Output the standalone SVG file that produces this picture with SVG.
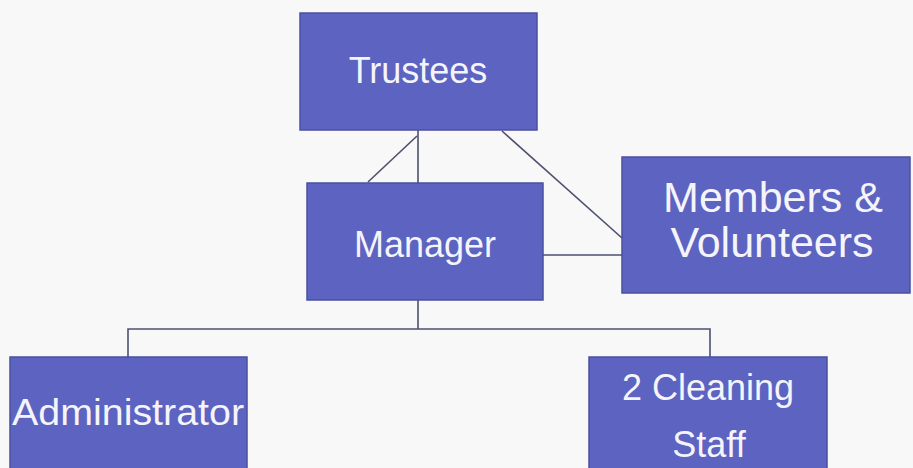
<svg xmlns="http://www.w3.org/2000/svg" width="913" height="468" viewBox="0 0 913 468">
  <style>
    .box { fill: #5c63c0; stroke: #4a509e; stroke-width: 1.5; }
    .lbl { fill: #f4f4fa; font-family: "Liberation Sans", Arial, sans-serif; font-size: 36px; text-anchor: middle; }
    .big { font-size: 43px; }
    .con { stroke: #4d5070; stroke-width: 1.6; fill: none; }
  </style>
  <rect width="913" height="468" fill="#f8f8f8"/>
  <g id="connectors">
    <line class="con" x1="418" y1="130" x2="418" y2="183"/>
    <line class="con" x1="417" y1="136" x2="368" y2="182"/>
    <line class="con" x1="502" y1="131" x2="622" y2="238"/>
    <line class="con" x1="543" y1="255" x2="622" y2="255"/>
    <line class="con" x1="418" y1="300" x2="418" y2="329"/>
    <polyline class="con" points="128,357 128,329 710,329 710,357"/>
  </g>
  <g id="trustees">
    <rect class="box" x="300" y="13" width="237" height="117"/>
    <text class="lbl" x="418" y="83">Trustees</text>
  </g>
  <g id="manager">
    <rect class="box" x="307" y="183" width="236" height="117"/>
    <text class="lbl" x="425" y="257">Manager</text>
  </g>
  <g id="members">
    <rect class="box" x="622" y="157" width="288" height="136"/>
    <text class="lbl big" x="773" y="212">Members &amp;</text>
    <text class="lbl big" x="772" y="257">Volunteers</text>
  </g>
  <g id="administrator">
    <rect class="box" x="10" y="357" width="237" height="120"/>
    <text class="lbl" x="128" y="425" textLength="232" lengthAdjust="spacingAndGlyphs">Administrator</text>
  </g>
  <g id="cleaning">
    <rect class="box" x="589" y="357" width="238" height="120"/>
    <text class="lbl" x="708" y="400">2 Cleaning</text>
    <text class="lbl" x="709" y="457">Staff</text>
  </g>
</svg>
